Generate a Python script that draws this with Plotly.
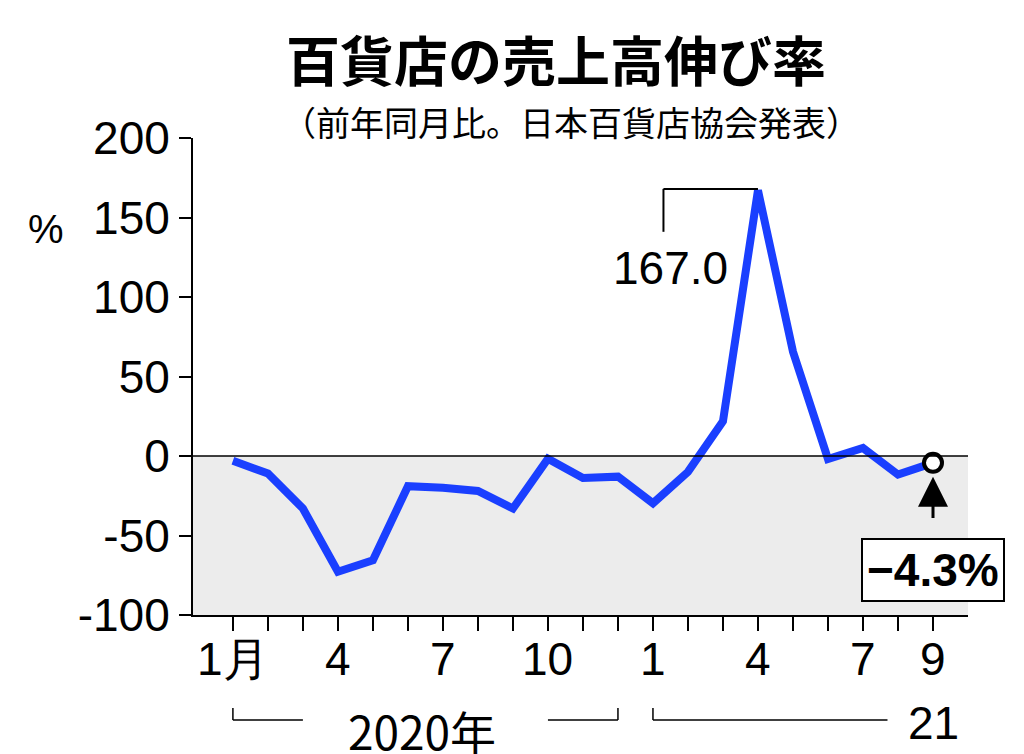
import plotly.graph_objects as go

months = list(range(21))
values = [-3, -11, -33, -72.8, -65.6, -19, -20, -22, -33, -1.7, -13.8, -13,
          -29.7, -10, 21.8, 167.0, 65.6, -1.9, 5, -11.7, -4.3]
tick_pos = [0, 3, 6, 9, 12, 15, 18, 20]
tick_txt = ["1月", "4", "7", "10", "1", "4", "7", "9"]
y_ticks = [-100, -50, 0, 50, 100, 150, 200]

F = "Noto Sans CJK JP"
fig = go.Figure()
fig.add_shape(type="rect", xref="x", yref="y", x0=-1.14, x1=21, y0=-100, y1=0,
              fillcolor="#ececec", line_width=0, layer="below")
fig.add_shape(type="line", xref="x", yref="y", x0=-1.14, x1=21, y0=0, y1=0,
              line=dict(color="black", width=1.5))
fig.add_trace(go.Scatter(x=months, y=values, mode="lines",
                         line=dict(color="#1a3fff", width=8), hoverinfo="skip"))
fig.add_trace(go.Scatter(x=[months[-1]], y=[values[-1]], mode="markers",
                         marker=dict(size=18, color="white", line=dict(color="black", width=4))))

fig.update_xaxes(range=[-1.14, 21], tickvals=list(range(21)), ticktext=[""] * 21,
                 ticks="outside", ticklen=14, tickwidth=2, tickcolor="black",
                 showline=True, linecolor="black", linewidth=2, showgrid=False, zeroline=False)
fig.update_yaxes(range=[-100, 200], tickvals=y_ticks, ticktext=["-100", "-50", "0", "50", "100", "150", "200"],
                 ticks="outside", ticklen=12, tickwidth=2,
                 tickcolor="black", showline=True, linecolor="black", linewidth=2,
                 showgrid=False, zeroline=False, tickfont=dict(size=46, family="Liberation Sans", color="black"))

ann = []
for p, t in zip(tick_pos, tick_txt):
    ann.append(dict(x=p, y=-100, xref="x", yref="y", text=t, showarrow=False, yanchor="top",
                    yshift=-16, font=dict(size=46, family="Liberation Sans", color="black")))
ann += [
    dict(x=0.5, y=1.0, xref="paper", yref="paper", text="<b>百貨店の売上高伸び率</b>", showarrow=False,
         xanchor="center", yanchor="bottom", yshift=38, xshift=-25, font=dict(size=54, family=F, color="black")),
    dict(x=0.5, y=1.0, xref="paper", yref="paper", text="（前年同月比。日本百貨店協会発表）", showarrow=False,
         xanchor="center", yanchor="bottom", yshift=-10, xshift=-10, font=dict(size=34, family=F, color="black")),
    dict(x=-0.215, y=0.86, xref="paper", yref="paper", text="%", showarrow=False, xanchor="left",
         font=dict(size=40, family="Liberation Sans", color="black")),
    dict(x=12.5, y=118, xref="x", yref="y", text="167.0", showarrow=False,
         font=dict(size=46, family="Liberation Sans", color="black")),
    dict(x=5.4, y=-100, xref="x", yref="y", text="2020年", showarrow=False, yanchor="top",
         yshift=-80, font=dict(size=46, family=F, color="black")),
    dict(x=20.0, y=-100, xref="x", yref="y", text="21", showarrow=False, yanchor="top",
         yshift=-80, font=dict(size=46, family="Liberation Sans", color="black")),
    dict(x=20.0, y=-72, xref="x", yref="y", text="<b>−4.3%</b>", showarrow=False,
         font=dict(size=46, family="Liberation Sans", color="black"),
         bgcolor="white", bordercolor="black", borderwidth=2, borderpad=4),
]
shapes = [
    dict(type="line", xref="x", yref="y", x0=12.3, x1=15.0, y0=168, y1=168, line=dict(color="black", width=2)),
    dict(type="line", xref="x", yref="y", x0=12.3, x1=12.3, y0=168, y1=141, line=dict(color="black", width=2)),
]
fig.add_annotation(x=20, y=-13, xref="x", yref="y", ax=20, ay=-40, axref="x", ayref="y",
                   showarrow=True, arrowhead=2, arrowsize=2, arrowwidth=3, arrowcolor="black", text="")
for x0, x1 in [(0, 2.0), (9.0, 11.0), (12.0, 18.7)]:
    shapes.append(dict(type="line", xref="x", yref="paper", x0=x0, x1=x1, y0=-0.22, y1=-0.22,
                       line=dict(color="black", width=1.5)))
for x in [0, 11.0, 12.0]:
    shapes.append(dict(type="line", xref="x", yref="paper", x0=x, x1=x, y0=-0.22, y1=-0.195,
                       line=dict(color="black", width=1.5)))
for s in shapes:
    fig.add_shape(**s)
for a in ann:
    fig.add_annotation(**a)

fig.update_layout(width=1024, height=754, margin=dict(l=185, r=64, t=130, b=147),
                  plot_bgcolor="white", paper_bgcolor="white", showlegend=False)
fig.write_html("out.html")
